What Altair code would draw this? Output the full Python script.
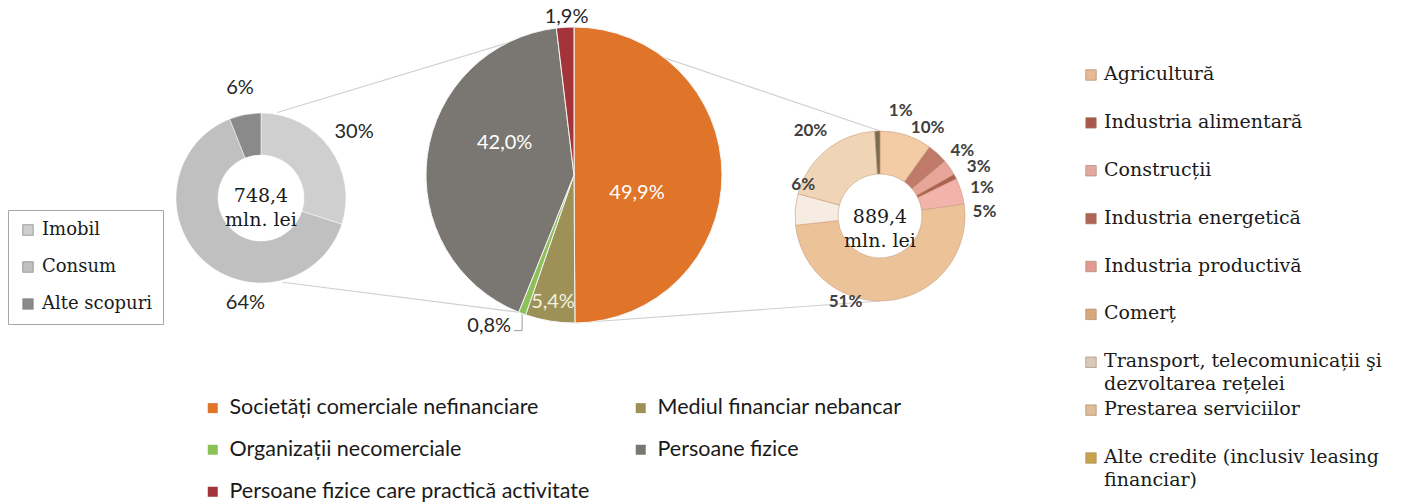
import math
import altair as alt
import pandas as pd

W, H = 1404, 503
SANS = "Lato"
SERIF = "DejaVu Serif"

# ---------------- data ----------------
left_cats = ["Imobil", "Consum", "Alte scopuri"]
left_vals = [30, 64, 6]
left_center = "748,4\nmln. lei"

mid_cats = ["Societăți comerciale nefinanciare", "Mediul financiar nebancar",
            "Organizații necomerciale", "Persoane fizice",
            "Persoane fizice care practică activitate"]
mid_vals = [49.9, 5.4, 0.8, 42.0, 1.9]

right_cats = ["Agricultură", "Industria alimentară", "Construcții",
              "Industria energetică", "Industria productivă", "Comerț",
              "Transport, telecomunicații şi\ndezvoltarea rețelei",
              "Prestarea serviciilor",
              "Alte credite (inclusiv leasing\nfinanciar)"]
right_vals = [10, 4, 3, 1, 5, 51, 6, 20, 1]
right_center = "889,4\nmln. lei"

# ---------------- styles ----------------
left_colors = ["#cfcfcf", "#c0c0c0", "#8a8a8a"]
mid_colors = ["#e07428", "#9d9158", "#8dc158", "#7a7772", "#a2343a"]
right_colors = ["#f3cba5", "#c07a6a", "#e8a59a", "#b06050", "#f1b3aa",
                "#ecc398", "#f7ece2", "#efd5b5", "#7a6a50"]
right_swatch = ["#e8b993", "#a8584a", "#e3a9a0", "#b06458", "#e49a92",
                "#d9a878", "#d8c8b8", "#e0bd98", "#c9a34a"]
# legend reading order for the two-column legend (column-major layout)
mid_legend_order = [0, 2, 4, 1, 3]

LC, LR, LR0 = (261, 198), 85, 43
MC, MR = (574, 175), 148
RC, RR, RR0 = (880, 216), 85, 42


def frame(cats, vals, fmt):
    df = pd.DataFrame({"cat": cats, "value": vals})
    df["idx"] = list(range(len(cats)))
    df["label"] = [fmt(v) for v in vals]
    return df


pct0 = lambda v: f"{v:.0f}%"
pct1 = lambda v: f"{v:.1f}".replace(".", ",") + "%"

left_df = frame(left_cats, left_vals, pct0)
mid_df = frame(mid_cats, mid_vals, pct1)
right_df = frame(right_cats, right_vals, pct0)


def arc_layer(df, domain, colors, c, r, r0, legend, stroke, sw):
    total = float(df["value"].sum())
    kw = dict(x=c[0], y=c[1], radius=r, stroke=stroke, strokeWidth=sw)
    if r0:
        kw["innerRadius"] = r0
    return alt.Chart(df).mark_arc(**kw).encode(
        theta=alt.Theta("value:Q", stack=True, scale=alt.Scale(domain=[0, total])),
        order=alt.Order("idx:Q"),
        color=alt.Color("cat:N", sort=domain,
                        scale=alt.Scale(domain=domain, range=colors),
                        legend=legend),
    )


def label_layer(df, c, cat, radius, dx=0, dy=0, color="#262626", size=20,
                weight="normal"):
    total = float(df["value"].sum())
    return alt.Chart(df).transform_window(
        cum="sum(value)", sort=[alt.SortField("idx")], frame=[None, 0]
    ).transform_calculate(
        mid="datum.cum - datum.value / 2"
    ).transform_filter(
        alt.datum.cat == cat
    ).mark_text(
        x=c[0], y=c[1], radius=radius, dx=dx, dy=dy, font=SANS,
        fontSize=size, color=color, fontWeight=weight,
        align="center", baseline="middle"
    ).encode(
        theta=alt.Theta("mid:Q", stack=False, scale=alt.Scale(domain=[0, total])),
        text="label:N",
    )


def polar(c, r, frac):
    a = 2 * math.pi * frac
    return c[0] + r * math.sin(a), c[1] - r * math.cos(a)


# connector lines derived from the slice geometry
mtot = sum(mid_vals)
cum_mid = [sum(mid_vals[:i]) / mtot for i in range(len(mid_vals) + 1)]
p_top_l = polar(MC, MR, cum_mid[4])       # gray / red boundary
p_bot_l = polar(MC, MR, cum_mid[3])       # green / gray boundary
p_top_r = polar(MC, MR, cum_mid[0])
p_bot_r = polar(MC, MR, cum_mid[1])
q_top_l = polar(LC, LR + 2, 0.03)
q_bot_l = polar(LC, LR + 2, 0.46)
q_top_r = polar(RC, RR, 0.0)
q_bot_r = polar(RC, RR, 0.5)
seg = pd.DataFrame({
    "x": [q_top_l[0], q_bot_l[0], p_top_r[0], p_bot_r[0]],
    "y": [q_top_l[1], q_bot_l[1], p_top_r[1], p_bot_r[1]],
    "x2": [p_top_l[0], p_bot_l[0], q_top_r[0], q_bot_r[0]],
    "y2": [p_top_l[1], p_bot_l[1], q_top_r[1], q_bot_r[1]],
})
connectors = alt.Chart(seg).mark_rule(color="#cfcfcf", strokeWidth=1.2).encode(
    x=alt.X("x:Q", scale=None, axis=None), y=alt.Y("y:Q", scale=None, axis=None),
    x2="x2:Q", y2="y2:Q")

# leader line for the 0,8% slice
org_pt = polar(MC, MR, (cum_mid[2] + cum_mid[3]) / 2)
lead = pd.DataFrame({
    "x": [org_pt[0], org_pt[0]],
    "y": [org_pt[1], org_pt[1] + 17],
    "x2": [org_pt[0], org_pt[0] - 8],
    "y2": [org_pt[1] + 17, org_pt[1] + 17],
})
leader = alt.Chart(lead).mark_rule(color="#9a9a9a", strokeWidth=1).encode(
    x=alt.X("x:Q", scale=None, axis=None), y=alt.Y("y:Q", scale=None, axis=None),
    x2="x2:Q", y2="y2:Q")
org_label = alt.Chart(mid_df).transform_filter(
    alt.datum.cat == mid_cats[2]
).mark_text(x=org_pt[0] - 11, y=org_pt[1] + 12, align="right", baseline="middle",
            font=SANS, fontSize=20, color="#262626").encode(text="label:N")

# legends
left_legend = alt.Legend(
    title=None, orient="none", legendX=8, legendY=210, strokeColor="#a6a6a6",
    padding=11, symbolType="square", symbolSize=110, symbolStrokeColor="#8a8a8a",
    symbolStrokeWidth=0.8, labelFont=SERIF, labelFontSize=18, labelColor="#1a1a1a",
    rowPadding=19, labelOffset=5)
mid_legend = alt.Legend(
    title=None, orient="none", legendX=202, legendY=397, columns=2,
    columnPadding=40, rowPadding=19, symbolType="square", symbolSize=100,
    symbolStrokeWidth=0, labelFont=SANS, labelFontSize=21.5, labelColor="#1a1a1a",
    labelOffset=6, labelLimit=600)

mid_domain = [mid_cats[i] for i in mid_legend_order]
mid_range = [mid_colors[i] for i in mid_legend_order]

left_arc = arc_layer(left_df, left_cats, left_colors, LC, LR, LR0, left_legend,
                     "#ffffff", 0.5)
mid_arc = arc_layer(mid_df, mid_domain, mid_range, MC, MR, 0, mid_legend,
                    "#f4f4f4", 1)
right_arc = arc_layer(right_df, right_cats, right_colors, RC, RR, RR0, None,
                      "#c9a080", 0.6)

# labels (radius, dx, dy tweaks reproduce the original label placement)
left_labels = [
    label_layer(left_df, LC, left_cats[0], 115, 0, 2),
    label_layer(left_df, LC, left_cats[1], 106, 57, 28),
    label_layer(left_df, LC, left_cats[2], 112),
]
mid_labels = [
    label_layer(mid_df, MC, mid_cats[0], 65, -2, 18, color="#ffffff"),
    label_layer(mid_df, MC, mid_cats[1], 129, 0, 0, color="#f4f0dc"),
    label_layer(mid_df, MC, mid_cats[3], 76, 6, -22, color="#ffffff"),
    label_layer(mid_df, MC, mid_cats[4], 158, 2, 0, color="#262626"),
]
r_tweak = [(100, 17, 7), (105, 11, 12), (108, 10, 13), (105, 9, 21),
           (105, 4, 27), (93, -46, -6), (83, 6, -25), (110, 0, 0), (105, 24, 0)]
right_labels = [
    label_layer(right_df, RC, cat, t[0], t[1], t[2], color="#404040", size=17,
                weight="bold")
    for cat, t in zip(right_cats, r_tweak)
]

centers = [
    alt.Chart(left_df).transform_filter(alt.datum.idx == 0).mark_text(
        x=LC[0], y=LC[1] - 2, lineBreak="\n", font=SERIF, fontSize=19,
        lineHeight=24, color="#1a1a1a", align="center", baseline="middle"
    ).encode(text=alt.value(left_center)),
    alt.Chart(right_df).transform_filter(alt.datum.idx == 0).mark_text(
        x=RC[0], y=RC[1] + 1, lineBreak="\n", font=SERIF, fontSize=19,
        lineHeight=24, color="#1a1a1a", align="center", baseline="middle"
    ).encode(text=alt.value(right_center)),
]

# right legend (drawn as marks so wrapped labels keep the even spacing)
ry = alt.Y("idx:O", scale=alt.Scale(type="point", range=[75, 458], padding=0),
           axis=None)
right_sw = alt.Chart(right_df).mark_square(
    x=1091, size=110, stroke="#a08060", strokeWidth=0.6, opacity=1
).encode(
    y=ry,
    color=alt.Color("cat:N", scale=alt.Scale(domain=right_cats, range=right_swatch),
                    legend=None),
)
right_txt = alt.Chart(right_df).mark_text(
    x=1104, align="left", baseline="top", dy=-10, lineBreak="\n", font=SERIF,
    fontSize=19, lineHeight=23, color="#1a1a1a"
).encode(y=ry, text="cat:N")

chart = alt.layer(
    connectors, leader, left_arc, mid_arc, right_arc,
    *left_labels, *mid_labels, *right_labels, org_label, *centers,
    right_sw, right_txt
).resolve_scale(
    theta="independent", color="independent", x="independent", y="independent"
).resolve_legend(color="independent").properties(
    width=W, height=H, autosize="none", padding=0, background="white"
).configure_view(strokeWidth=0)

chart.save("out.html", embed_options={"renderer": "svg", "actions": False})
